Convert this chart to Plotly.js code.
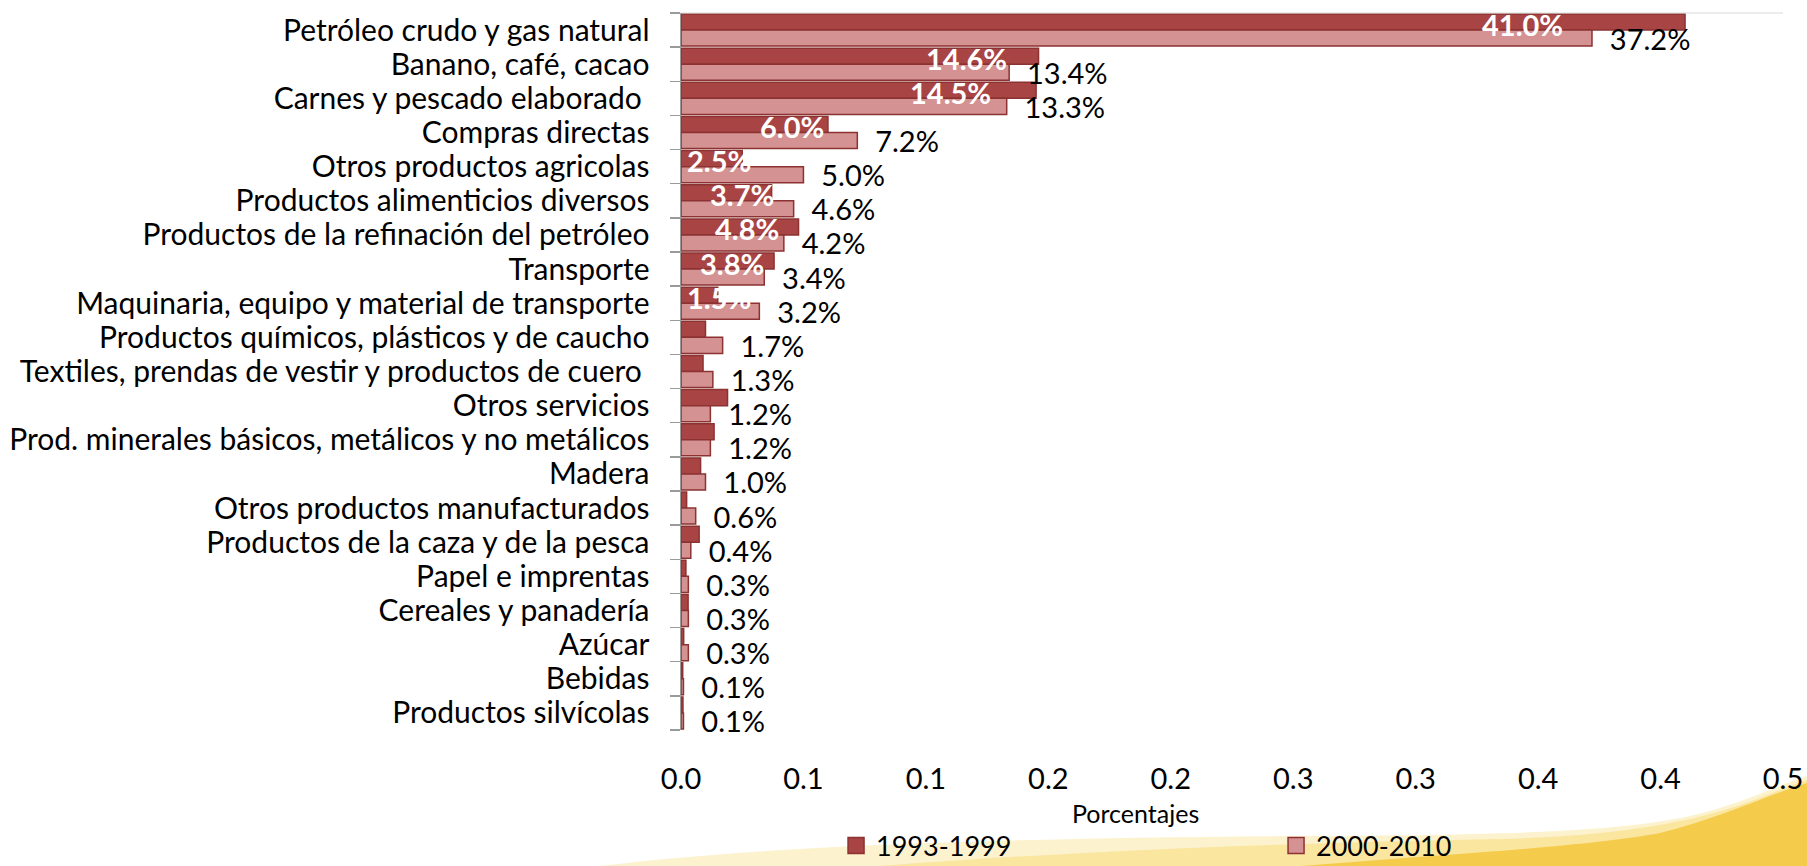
<!DOCTYPE html>
<html>
<head>
<meta charset="utf-8">
<script src="https://cdn.plot.ly/plotly-3.0.1.min.js"></script>
<style>
  html, body { margin: 0; padding: 0; background: #ffffff; }
  #chart { width: 1807px; height: 866px; }
</style>
</head>
<body>
<div id="chart"></div>
<script>
// ---- data ----
const categories = [
  "Petróleo crudo y gas natural",
  "Banano, café, cacao",
  "Carnes y pescado elaborado\u00a0",
  "Compras directas",
  "Otros productos agricolas",
  "Productos alimenticios diversos",
  "Productos de la refinación del petróleo",
  "Transporte",
  "Maquinaria, equipo y material de transporte",
  "Productos químicos, plásticos y de caucho",
  "Textiles, prendas de vestir y productos de cuero\u00a0",
  "Otros servicios",
  "Prod. minerales básicos, metálicos y no metálicos",
  "Madera",
  "Otros productos manufacturados",
  "Productos de la caza y de la pesca",
  "Papel e imprentas",
  "Cereales y panadería",
  "Azúcar",
  "Bebidas",
  "Productos silvícolas"
];
const series1Name = "1993-1999";
const series2Name = "2000-2010";
const values1993 = [0.410, 0.146, 0.145, 0.060, 0.025, 0.037, 0.048, 0.038, 0.015, 0.010, 0.009,
                    0.019, 0.0135, 0.008, 0.0023, 0.0074, 0.002, 0.0029, 0.0011, 0.0007, 0.0008];
const values2000 = [0.372, 0.134, 0.133, 0.072, 0.050, 0.046, 0.042, 0.034, 0.032, 0.017, 0.013,
                    0.012, 0.012, 0.010, 0.006, 0.004, 0.003, 0.003, 0.003, 0.001, 0.001];
const labels1993 = ["41.0%", "14.6%", "14.5%", "6.0%", "2.5%", "3.7%", "4.8%", "3.8%", "1.5%",
                    "", "", "", "", "", "", "", "", "", "", "", ""];
const labels2000 = ["37.2%", "13.4%", "13.3%", "7.2%", "5.0%", "4.6%", "4.2%", "3.4%", "3.2%", "1.7%",
                    "1.3%", "1.2%", "1.2%", "1.0%", "0.6%", "0.4%", "0.3%", "0.3%", "0.3%", "0.1%", "0.1%"];
const xTickVals = [0, 0.05, 0.10, 0.15, 0.20, 0.25, 0.30, 0.35, 0.40, 0.45];
const xTickText = ["0.0", "0.1", "0.1", "0.2", "0.2", "0.3", "0.3", "0.4", "0.4", "0.5"];
const xTitle = "Porcentajes";

// ---- styling ----
const W = 1807, H = 866;
const M = { l: 681, r: 24, t: 13, b: 136, autoexpand: false };
const plotW = W - M.l - M.r, plotH = H - M.t - M.b;
const FONT = "Lato, 'Open Sans', sans-serif";
const dark = "#A94444", darkLine = "#8C3232";
const pink = "#D49292";
// horizontal nudges (px) of the white labels, as placed in the original slide
const labelNudge1993 = [-118, -28, -41, 0, 0, 6, -16, -6, 0];

// pixel -> paper helpers for background decoration only
const px = (x) => ((x - M.l) / plotW).toFixed(4);
const py = (y) => ((H - M.b - y) / plotH).toFixed(4);
function path(pts) {
  return pts.map(p => {
    if (p[0] === 'Z') return 'Z';
    let s = p[0];
    for (let i = 1; i < p.length; i += 2) s += (i > 1 ? ' ' : '') + px(p[i]) + ',' + py(p[i + 1]);
    return s;
  }).join(' ');
}

const trace1 = {
  type: 'bar', orientation: 'h', name: series1Name, showlegend: false,
  y: categories, x: values1993,
  marker: { color: dark, line: { color: darkLine, width: 1.5 } },
  hoverinfo: 'x+y'
};
const trace2 = {
  type: 'bar', orientation: 'h', name: series2Name, showlegend: false,
  y: categories, x: values2000,
  marker: { color: pink, line: { color: darkLine, width: 1.5 } },
  text: labels2000.map(t => '\u00a0\u00a0' + t),
  textposition: 'outside', constraintext: 'none', cliponaxis: false,
  textfont: { family: FONT, size: 29, color: '#000000' },
  hoverinfo: 'x+y'
};
// legend keys (square swatches like the original)
const key1 = { type: 'scatter', mode: 'markers', name: series1Name, x: [null], y: [null],
  marker: { symbol: 'square', size: 18, color: dark, line: { color: darkLine, width: 1.5 } } };
const key2 = { type: 'scatter', mode: 'markers', name: series2Name, x: [null], y: [null],
  marker: { symbol: 'square', size: 18, color: pink, line: { color: darkLine, width: 1.5 } } };

const xRange = [0, 0.45];
const minFit = 62 / plotW * (xRange[1] - xRange[0]);
const annotations = [];
labels1993.forEach((t, i) => {
  if (!t) return;
  const fits = values1993[i] >= minFit;
  annotations.push({
    x: fits ? values1993[i] : 0, y: categories[i], xref: 'x', yref: 'y',
    xanchor: fits ? 'right' : 'left', yanchor: 'middle',
    xshift: (fits ? -2 : 4) + (labelNudge1993[i] || 0), yshift: 6,
    text: '<b>' + t + '</b>', showarrow: false,
    font: { family: FONT, size: 29, color: '#ffffff' }
  });
});
annotations.push({
  xref: 'paper', yref: 'paper', x: Number(px(1135)), y: Number(py(813)),
  xanchor: 'center', yanchor: 'middle', text: xTitle, showarrow: false,
  font: { family: FONT, size: 25, color: '#000000' }
});

const shapes = [
  { type: 'path', xref: 'paper', yref: 'paper', layer: 'below', line: { width: 0 },
    fillcolor: 'rgba(252,240,198,0.85)',
    path: path([['M', 600, 866], ['C', 760, 846, 1000, 838, 1300, 836], ['C', 1550, 835, 1650, 830, 1720, 808], ['C', 1760, 795, 1785, 783, 1807, 776], ['L', 1807, 866], ['Z']]) },
  { type: 'path', xref: 'paper', yref: 'paper', layer: 'below', line: { width: 0 },
    fillcolor: 'rgba(248,220,120,0.55)',
    path: path([['M', 880, 866], ['C', 1100, 849, 1300, 843, 1500, 839], ['C', 1620, 836, 1690, 822, 1740, 805], ['C', 1770, 795, 1790, 785, 1807, 780], ['L', 1807, 866], ['Z']]) },
  { type: 'path', xref: 'paper', yref: 'paper', layer: 'below', line: { width: 0 },
    fillcolor: 'rgba(242,196,52,0.8)',
    path: path([['M', 1300, 866], ['C', 1480, 852, 1590, 846, 1660, 833], ['C', 1720, 818, 1770, 794, 1807, 783], ['L', 1807, 866], ['Z']]) },
  { type: 'line', xref: 'paper', yref: 'paper', x0: 0, x1: 1, y0: 1, y1: 1,
    line: { color: '#D9D9D9', width: 1 } }
];

const layout = {
  width: W, height: H,
  margin: M,
  paper_bgcolor: '#ffffff', plot_bgcolor: 'rgba(0,0,0,0)',
  font: { family: FONT, size: 29, color: '#000000' },
  barmode: 'group', bargap: 0.06, bargroupgap: 0,
  showlegend: true,
  legend: {
    orientation: 'h', x: Number(px(836)), y: Number(py(846)), xanchor: 'left', yanchor: 'middle',
    font: { family: FONT, size: 27, color: '#000000' },
    entrywidth: 395, entrywidthmode: 'pixels', traceorder: 'normal',
    itemsizing: 'trace', itemwidth: 30,
    bgcolor: 'rgba(0,0,0,0)'
  },
  xaxis: {
    range: xRange, tickvals: xTickVals, ticktext: xTickText,
    showgrid: false, zeroline: false, showline: false, ticks: '',
    ticklabelstandoff: 29, automargin: false,
    tickfont: { family: FONT, size: 29, color: '#000000' }
  },
  yaxis: {
    autorange: 'reversed', type: 'category',
    tickmode: 'array', tickvals: categories, ticktext: categories,
    showgrid: false, zeroline: false, automargin: false,
    showline: true, linecolor: '#9A9A9A', linewidth: 1.5,
    ticks: 'outside', ticklen: 10, tickwidth: 1.5, tickcolor: '#9A9A9A',
    tickson: 'boundaries', ticklabelstandoff: 24,
    tickfont: { family: FONT, size: 30, color: '#000000' }
  },
  annotations: annotations,
  shapes: shapes
};

Plotly.newPlot('chart', [trace1, trace2, key1, key2], layout, { displayModeBar: false, staticPlot: true });
</script>
</body>
</html>
